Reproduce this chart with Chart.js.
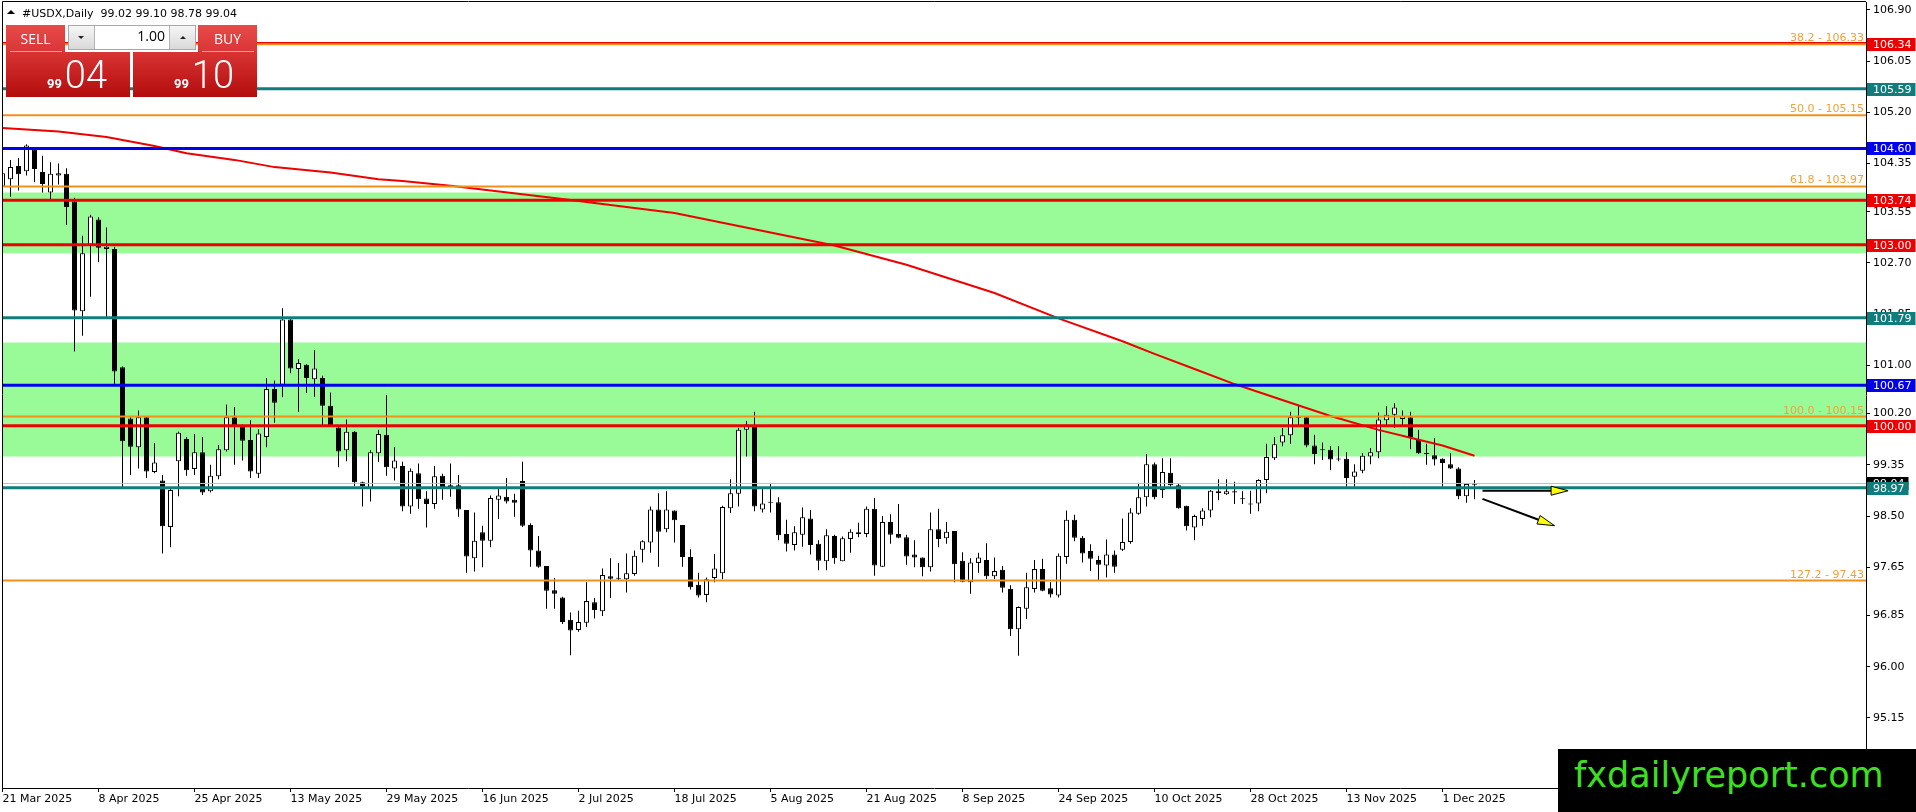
<!DOCTYPE html>
<html><head><meta charset="utf-8">
<script src="https://cdn.jsdelivr.net/npm/chart.js@4.4.1/dist/chart.umd.min.js"></script>
<style>
html,body{margin:0;padding:0;background:#fff;}
#wrap{position:relative;width:1916px;height:812px;overflow:hidden;background:#fff;}
#c{position:absolute;left:0;top:0;}
#tri{position:absolute;left:7px;top:10px;width:0;height:0;border-left:4px solid transparent;border-right:4px solid transparent;border-bottom:4px solid #000;}
#hdr{position:absolute;left:22px;top:7px;font:11px "DejaVu Sans";line-height:13px;color:#000;white-space:pre;}
.tab{position:absolute;top:25px;width:59px;height:27px;background:linear-gradient(#e84a4a,#d93636);color:#fff;font:14px "Open Sans";text-align:center;line-height:27px;}
.sep{position:absolute;top:51px;height:1px;width:52px;background:#f29a9a;}
.pbox{position:absolute;top:52px;width:124px;height:45px;background:linear-gradient(#d93434,#b20c0c);}
.pnum{position:absolute;right:23px;top:4px;display:flex;align-items:baseline;color:#fff;}
.pnum .s{font:bold 13px Roboto;line-height:1;margin-right:3px;}
.pnum .b{font:300 38px Roboto;line-height:1;}
#qty{position:absolute;left:68px;top:25px;width:128px;height:25px;box-sizing:border-box;border:1px solid #a8a8a8;background:#fff;}
#qty .btn{position:absolute;top:0;height:23px;width:25px;background:linear-gradient(#f6f6f6,#d9d9d9);}
#qty .dn{left:0;border-right:1px solid #b4b4b4;}
#qty .up{right:0;border-left:1px solid #b4b4b4;}
#qty .dn i{position:absolute;left:9px;top:10px;width:0;height:0;border-left:3px solid transparent;border-right:3px solid transparent;border-top:3px solid #222;}
#qty .up i{position:absolute;left:10px;top:10px;width:0;height:0;border-left:3px solid transparent;border-right:3px solid transparent;border-bottom:3px solid #222;}
#qty .val{position:absolute;right:30px;top:0;line-height:23px;font:14px "Open Sans";color:#000;}
#fx{position:absolute;left:1558px;top:749px;width:358px;height:63px;background:#000;}
#fx span{position:absolute;left:16px;top:9px;font:35px "DejaVu Sans";line-height:1;color:#3de021;white-space:nowrap;}
</style>
</head><body>
<div id="wrap">
<canvas id="c" width="1916" height="812"></canvas>
<div id="tri"></div>
<div id="hdr"></div>
<div class="tab" style="left:6px">SELL</div>
<div class="tab" style="left:198px">BUY</div>
<div class="pbox" style="left:6px"><div class="pnum"><span class="s" id="bidA"></span><span class="b" id="bidB"></span></div></div>
<div class="pbox" style="left:133px"><div class="pnum"><span class="s" id="askA"></span><span class="b" id="askB"></span></div></div>
<div class="sep" style="left:10px"></div>
<div class="sep" style="left:202px"></div>
<div id="qty"><div class="btn dn"><i></i></div><div class="val" id="lot"></div><div class="btn up"><i></i></div></div>
<div id="fx"><span>fxdailyreport.com</span></div>
</div>
<script>
// ---------------- DATA ----------------
const symbol = '#USDX';
const timeframe = 'Daily';
const bidPrice = 99.04;
const askPrice = 99.10;
const lotSize = 1.00;

const candleOpen = [
103.97,104.09,104.31,104.22,104.58,104.21,103.87,104.15,104.18,103.72,
101.90,103.00,103.42,102.93,102.93,100.97,100.12,99.64,100.14,99.23,
99.09,98.32,99.41,99.78,99.28,99.56,98.91,99.16,99.59,100.14,
99.99,99.76,99.20,99.81,100.61,100.68,101.76,100.94,101.01,100.77,
100.79,100.33,99.97,99.59,99.90,99.06,98.96,99.54,99.85,99.29,
99.33,98.66,99.21,98.79,98.70,99.17,98.98,99.01,98.60,97.80,
98.23,98.09,98.77,98.82,98.77,99.08,98.35,97.93,97.67,97.27,
97.15,96.78,96.61,96.73,97.07,96.92,97.50,97.46,97.45,97.54,
97.94,98.06,98.61,98.28,98.59,98.35,97.82,97.36,97.19,97.47,
97.55,98.63,98.87,99.93,100.00,98.61,98.72,98.73,98.20,98.02,
98.19,98.46,98.04,97.75,98.17,97.75,98.12,98.23,98.20,98.62,
97.66,98.40,98.20,98.15,97.86,97.81,97.65,98.28,98.13,98.25,
97.76,97.40,97.72,97.77,97.50,97.61,97.29,96.62,96.96,97.29,
97.62,97.30,97.18,97.82,98.44,98.14,97.92,97.77,97.68,97.86,
97.94,98.07,98.54,98.81,99.36,98.93,99.22,99.01,98.67,98.31,
98.45,98.59,98.91,98.86,98.91,98.78,98.71,98.71,99.10,99.46,
99.72,99.84,100.13,100.14,99.67,99.61,99.60,99.45,99.45,99.15,
99.25,99.49,99.56,100.09,100.18,100.11,100.14,99.76,99.54,99.51,
99.45,99.36,99.29,98.83,99.02];
const candleHigh = [
104.25,104.41,104.44,104.67,104.61,104.48,104.37,104.35,104.27,103.78,
103.15,103.50,103.46,103.29,102.97,100.98,100.14,100.25,100.16,99.71,
99.18,98.95,99.90,99.81,99.86,99.81,99.35,99.68,100.35,100.31,
100.02,100.09,99.94,100.79,100.75,101.95,101.80,101.10,101.02,101.25,
100.83,100.55,99.99,100.10,99.91,99.07,99.59,99.93,100.51,99.64,
99.40,99.29,99.37,98.91,99.33,99.20,99.37,99.18,98.60,98.56,
98.34,98.84,98.95,99.13,98.87,99.40,98.38,98.17,97.67,97.47,
97.16,96.90,96.93,97.40,97.14,97.63,97.80,97.72,97.88,97.93,
98.10,98.66,98.88,98.91,98.59,98.35,97.95,97.56,97.48,97.87,
98.67,99.11,99.96,100.08,100.23,98.96,99.03,98.81,98.44,98.33,
98.64,98.60,98.10,98.28,98.19,98.16,98.28,98.39,98.66,98.80,
98.50,98.53,98.70,98.19,98.10,97.81,98.56,98.62,98.40,98.25,
97.90,97.80,97.89,98.05,97.81,97.67,97.35,97.00,97.56,97.77,
97.79,97.40,97.88,98.59,98.52,98.17,98.03,97.84,98.11,97.93,
98.46,98.63,99.03,99.53,99.39,99.46,99.46,99.03,98.67,98.52,
98.63,98.93,99.11,99.11,99.07,98.91,98.92,99.11,99.70,99.81,
99.96,100.23,100.33,100.15,99.85,99.72,99.66,99.66,99.56,99.36,
99.54,99.63,100.22,100.32,100.37,100.25,100.23,99.93,99.70,99.79,
99.46,99.54,99.31,99.05,99.10];
const candleLow = [
103.78,103.80,103.90,104.15,104.04,103.87,103.76,104.00,103.33,101.23,
101.49,102.14,102.71,101.80,100.69,98.98,99.18,99.29,99.13,99.21,
97.88,97.98,98.83,99.17,99.18,98.85,98.89,99.11,99.57,99.35,
99.42,99.13,99.13,99.64,100.05,100.47,100.87,100.23,100.54,100.48,
100.01,100.00,99.31,99.41,99.00,98.66,98.74,99.40,99.17,99.09,
98.58,98.54,98.62,98.31,98.62,98.77,98.82,98.49,97.56,97.58,
97.65,97.98,98.45,98.71,98.49,98.32,97.66,97.64,96.96,96.96,
96.71,96.19,96.58,96.66,96.80,96.84,97.14,97.44,97.23,97.51,
97.73,97.89,97.66,98.23,98.06,97.66,97.28,97.15,97.07,97.40,
97.45,98.55,98.66,99.49,98.58,98.56,98.56,98.10,97.91,97.93,
97.99,97.86,97.60,97.60,97.71,97.75,97.89,98.15,98.15,97.51,
97.66,98.04,98.13,97.69,97.65,97.50,97.58,97.98,98.04,97.40,
97.40,97.21,97.56,97.45,97.45,97.23,96.51,96.18,96.79,97.23,
97.25,97.15,97.15,97.71,98.08,97.73,97.59,97.44,97.48,97.56,
97.92,98.04,98.52,98.66,98.78,98.80,98.99,98.62,98.26,98.10,
98.34,98.48,98.76,98.85,98.70,98.70,98.54,98.58,98.88,99.43,
99.66,99.70,99.99,99.64,99.36,99.43,99.26,99.41,98.99,98.99,
99.21,99.36,99.46,100.01,99.96,100.00,99.61,99.53,99.35,99.34,
98.99,99.28,98.78,98.72,98.78];
const candleClose = [
104.19,104.29,104.17,104.65,104.26,104.01,104.18,104.19,103.63,101.91,
102.86,103.47,102.95,102.97,100.90,99.74,99.65,100.14,99.24,99.39,
98.33,98.93,99.88,99.26,99.56,98.89,99.17,99.61,100.14,100.00,
99.75,99.24,99.87,100.61,100.38,101.76,100.95,101.04,100.79,100.95,
100.33,100.01,99.57,99.90,99.06,99.00,99.56,99.86,99.31,99.42,
98.66,99.25,98.78,98.70,99.16,98.98,99.01,98.61,97.83,98.09,
98.09,98.80,98.84,98.74,98.72,98.34,97.93,97.66,97.26,97.21,
96.74,96.60,96.74,97.09,96.94,97.52,97.46,97.47,97.55,97.84,
98.08,98.61,98.24,98.61,98.43,97.82,97.32,97.18,97.45,97.63,
98.65,98.88,99.93,100.02,98.66,98.71,98.73,98.18,98.04,98.23,
98.48,98.02,97.76,98.18,97.80,98.13,98.24,98.20,98.62,97.68,
98.40,98.19,98.14,97.83,97.81,97.65,98.28,98.12,98.24,97.70,
97.41,97.73,97.81,97.50,97.59,97.31,96.62,96.99,97.32,97.62,
97.26,97.20,97.84,98.44,98.14,97.88,97.79,97.69,97.86,97.66,
98.07,98.56,98.81,99.36,98.81,99.23,99.01,98.63,98.33,98.50,
98.59,98.92,98.88,98.91,98.89,98.79,98.69,99.10,99.48,99.69,
99.84,100.14,100.15,99.67,99.53,99.59,99.44,99.44,99.13,99.24,
99.50,99.56,100.10,100.18,100.30,100.16,99.81,99.54,99.53,99.44,
99.38,99.29,98.83,99.03,99.04];

// moving average, read at sampled bar positions
const maBar = [0,7,13,19,23,29,34,41,47,50,56,70,84,94,104,113,124,132,140,144,149,154,161,166,172,176,180,184];
const maValue = [104.94,104.88,104.79,104.64,104.52,104.41,104.29,104.20,104.09,104.06,103.98,103.76,103.53,103.26,102.99,102.67,102.20,101.78,101.40,101.19,100.94,100.69,100.38,100.16,99.93,99.80,99.67,99.50];

const xTickBars = [0,12,24,36,48,60,72,84,96,108,120,132,144,156,168,180];
const xTickLabels = ['21 Mar 2025','8 Apr 2025','25 Apr 2025','13 May 2025','29 May 2025','16 Jun 2025','2 Jul 2025','18 Jul 2025','5 Aug 2025','21 Aug 2025','8 Sep 2025','24 Sep 2025','10 Oct 2025','28 Oct 2025','13 Nov 2025','1 Dec 2025'];
const yTickValues = [106.90,106.05,105.20,104.35,103.55,102.70,101.85,101.00,100.20,99.35,98.50,97.65,96.85,96.00,95.15];

const redLevels = [106.34,103.74,103.00,100.00];
const tealLevels = [105.59,101.79,98.97];
const blueLevels = [104.60,100.67];

const fibLevels = ['38.2','50.0','61.8','100.0','127.2','161.8'];
const fibValues = [106.33,105.15,103.97,100.15,97.43,93.97];

const zoneTop = [103.87,101.38];
const zoneBottom = [102.86,99.49];

const arrowFromBar = [185,185];
const arrowFromPrice = [98.92,98.785];
const arrowToBar = [195.7,194.0];
const arrowToPrice = [98.92,98.34];

// ---------------- STYLE ----------------
const C_RED = '#ee0000', C_TEAL = '#117c7c', C_BLUE = '#0000ee';
const C_FIB = '#f39019', C_FIB_TXT = '#f0a23a', C_ZONE = '#98fb98', C_BID = '#c0c0c0';
const FONT = '"DejaVu Sans"';
const X_MIN = 0, X_MAX = 232.9375;
const Y_MIN = 93.987, Y_MAX = 107.03;

// ---------------- HTML text ----------------
document.getElementById('hdr').textContent = symbol + ',' + timeframe + '  ' +
  [candleOpen.at(-1), candleHigh.at(-1), candleLow.at(-1), candleClose.at(-1)].map(v => v.toFixed(2)).join(' ');
const splitPrice = p => { const s = p.toFixed(2).split('.'); return [s[0], s[1]]; };
document.getElementById('bidA').textContent = splitPrice(bidPrice)[0];
document.getElementById('bidB').textContent = splitPrice(bidPrice)[1];
document.getElementById('askA').textContent = splitPrice(askPrice)[0];
document.getElementById('askB').textContent = splitPrice(askPrice)[1];
document.getElementById('lot').textContent = lotSize.toFixed(2);

// ---------------- DATASETS ----------------
const hLine = (v, color, width, order) => ({
  type: 'line', data: [{x: X_MIN, y: v}, {x: X_MAX, y: v}], borderColor: color, borderWidth: width,
  pointRadius: 0, fill: false, order, clip: 0
});
const datasets = [];
zoneTop.forEach((t, k) => {
  datasets.push({type: 'line', data: [{x: X_MIN, y: t}, {x: X_MAX, y: t}], borderColor: 'transparent', borderWidth: 0, pointRadius: 0, fill: '+1', backgroundColor: C_ZONE, order: 20, clip: 0});
  datasets.push({type: 'line', data: [{x: X_MIN, y: zoneBottom[k]}, {x: X_MAX, y: zoneBottom[k]}], borderColor: 'transparent', borderWidth: 0, pointRadius: 0, fill: false, order: 20, clip: 0});
});
datasets.push({
  type: 'bar', grouped: false, order: 6, barThickness: 1, inflateAmount: 0, borderWidth: 0,
  backgroundColor: '#000', clip: 0,
  data: candleLow.map((l, i) => ({x: i, y: [l, candleHigh[i]]}))
});
datasets.push({
  type: 'bar', grouped: false, order: 5, barThickness: 5, inflateAmount: 0, borderWidth: 1, borderSkipped: false,
  minBarLength: 1, borderColor: '#000', clip: 0,
  backgroundColor: candleOpen.map((o, i) => candleClose[i] >= o ? '#ffffff' : '#000000'),
  data: candleOpen.map((o, i) => ({x: i, y: [o, candleClose[i]]}))
});
datasets.push({
  type: 'line', order: 4, borderColor: C_RED, borderWidth: 2, pointRadius: 0, tension: 0, fill: false, clip: 0,
  data: maBar.map((b, k) => ({x: b, y: maValue[k]}))
});
redLevels.forEach(v => datasets.push(hLine(v, C_RED, 3, 2)));
tealLevels.forEach(v => datasets.push(hLine(v, C_TEAL, 3, 2)));
blueLevels.forEach(v => datasets.push(hLine(v, C_BLUE, 3, 2)));
fibValues.forEach(v => datasets.push(hLine(v, C_FIB, 2, 1)));
datasets.push(hLine(bidPrice, C_BID, 1, 2.5));

// ---------------- PLUGIN (text, arrows, frame, price boxes) ----------------
const overlay = {
  id: 'overlay',
  afterDatasetsDraw(chart) {
    const {ctx, chartArea: a, scales: {x, y}} = chart;
    ctx.save();
    ctx.beginPath(); ctx.rect(a.left, a.top, a.right - a.left, a.bottom - a.top); ctx.clip();
    ctx.font = '11px ' + FONT; ctx.fillStyle = C_FIB_TXT; ctx.textAlign = 'right'; ctx.textBaseline = 'alphabetic';
    fibValues.forEach((v, k) => {
      ctx.fillText(fibLevels[k] + ' - ' + v.toFixed(2), a.right - 2, y.getPixelForValue(v) - 3);
    });
    arrowFromBar.forEach((b, k) => {
      const x1 = x.getPixelForValue(b), y1 = y.getPixelForValue(arrowFromPrice[k]);
      const x2 = x.getPixelForValue(arrowToBar[k]), y2 = y.getPixelForValue(arrowToPrice[k]);
      const ang = Math.atan2(y2 - y1, x2 - x1), L = 17, W = 4.5;
      const bx = x2 - L * Math.cos(ang), by = y2 - L * Math.sin(ang);
      ctx.strokeStyle = '#000'; ctx.lineWidth = 2;
      ctx.beginPath(); ctx.moveTo(x1, y1); ctx.lineTo(bx, by); ctx.stroke();
      ctx.beginPath(); ctx.moveTo(x2, y2);
      ctx.lineTo(bx - W * Math.sin(ang), by + W * Math.cos(ang));
      ctx.lineTo(bx + W * Math.sin(ang), by - W * Math.cos(ang));
      ctx.closePath(); ctx.fillStyle = '#ffff00'; ctx.fill(); ctx.lineWidth = 1; ctx.stroke();
    });
    ctx.restore();
  },
  afterDraw(chart) {
    const {ctx, chartArea: a, scales: {y}} = chart;
    ctx.save();
    ctx.strokeStyle = '#000'; ctx.lineWidth = 1;
    ctx.beginPath(); ctx.moveTo(2.5, a.bottom); ctx.lineTo(2.5, 1.5); ctx.lineTo(a.right, 1.5); ctx.stroke();
    ctx.font = '11px ' + FONT; ctx.textAlign = 'left'; ctx.textBaseline = 'middle';
    const box = (v, color) => {
      const label = v.toFixed(2);
      const py = Math.round(y.getPixelForValue(v));
      const w = ctx.measureText(label).width;
      ctx.fillStyle = color; ctx.fillRect(a.right + 1, py - 6, w + 10, 13);
      ctx.fillStyle = '#fff'; ctx.fillText(label, a.right + 7, py + 1);
    };
    box(bidPrice, '#000');
    redLevels.forEach(v => box(v, C_RED));
    tealLevels.forEach(v => box(v, C_TEAL));
    blueLevels.forEach(v => box(v, C_BLUE));
    ctx.restore();
  }
};

Chart.defaults.font.family = FONT;
Chart.defaults.font.size = 11;
Chart.defaults.color = '#000';

new Chart(document.getElementById('c'), {
  type: 'bar',
  data: {datasets},
  options: {
    responsive: false, animation: false, devicePixelRatio: 1, events: [],
    layout: {padding: {left: 2.5, top: 2, right: 0, bottom: 0}},
    plugins: {legend: {display: false}, tooltip: {enabled: false}, filler: {drawTime: 'beforeDatasetsDraw'}},
    scales: {
      x: {
        type: 'linear', min: X_MIN, max: X_MAX, offset: false,
        grid: {display: true, drawOnChartArea: false, drawTicks: true, tickLength: 4, color: '#000', offset: false},
        border: {display: true, color: '#000', width: 1},
        ticks: {autoSkip: false, maxRotation: 0, minRotation: 0, align: 'start', padding: 1, color: '#000',
          font: {family: FONT, size: 11},
          callback: v => { const k = xTickBars.indexOf(v); return k >= 0 ? xTickLabels[k] : ''; }},
        afterBuildTicks: s => { s.ticks = xTickBars.map(v => ({value: v})); },
        afterFit: s => { s.height = 24; s.paddingLeft = 0; s.paddingRight = 0; }
      },
      y: {
        type: 'linear', position: 'right', min: Y_MIN, max: Y_MAX,
        grid: {display: true, drawOnChartArea: false, drawTicks: true, tickLength: 4, color: '#000'},
        border: {display: true, color: '#000', width: 1},
        ticks: {padding: 3, color: '#000', font: {family: FONT, size: 11}, callback: v => Number(v).toFixed(2)},
        afterBuildTicks: s => { s.ticks = yTickValues.map(v => ({value: v})); },
        afterFit: s => { s.width = 50; s.paddingTop = 0; s.paddingBottom = 0; }
      }
    }
  },
  plugins: [overlay]
});
</script>
</body></html>
